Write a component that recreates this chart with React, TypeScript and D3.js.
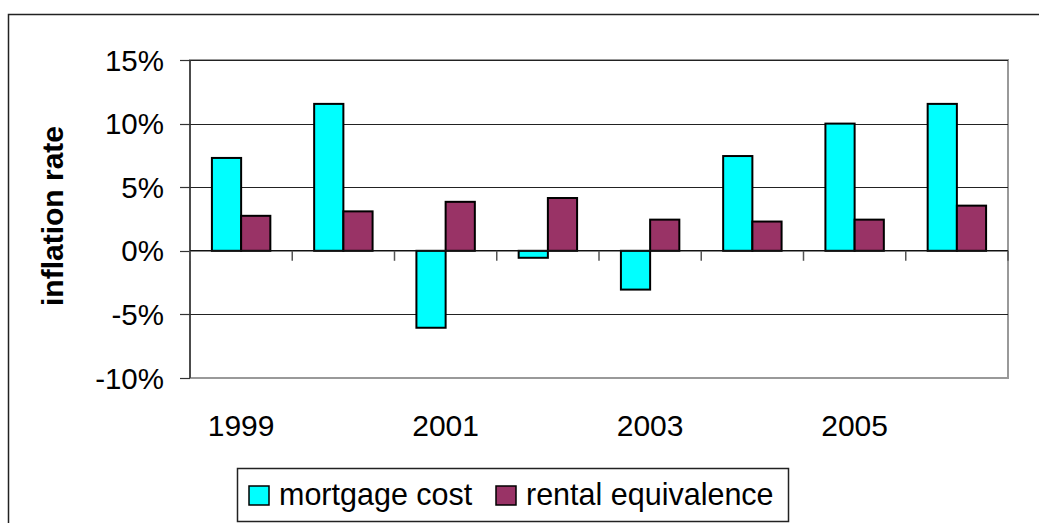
import React, { useEffect, useRef } from 'react';
import * as d3 from 'd3';

const years = ['1999', '2000', '2001', '2002', '2003', '2004', '2005', '2006'];
const mortgageCost = [7.3, 11.55, -6.05, -0.55, -3.05, 7.45, 10.0, 11.55];
const rentalEquivalence = [2.75, 3.1, 3.85, 4.15, 2.45, 2.3, 2.45, 3.55];
const yTicks = [-10, -5, 0, 5, 10, 15];
const seriesNames = ['mortgage cost', 'rental equivalence'];
const seriesColors = ['#00FFFF', '#993366'];

const App: React.FC = () => {
  const ref = useRef<SVGSVGElement | null>(null);

  useEffect(() => {
    if (!ref.current) return;
    const svg = d3.select(ref.current);
    svg.selectAll('*').remove();

    const width = 1039;
    const height = 523;
    const plot = { left: 190, top: 60, right: 1008, bottom: 378 };
    const font = 'Liberation Sans, Arial, sans-serif';

    // outer chart border
    svg.append('rect')
      .attr('x', 8.5).attr('y', 14.5)
      .attr('width', width + 10).attr('height', height)
      .attr('fill', 'white')
      .attr('stroke', '#222').attr('stroke-width', 1.5);

    const x = d3.scaleBand().domain(years).range([plot.left, plot.right]);
    const y = d3.scaleLinear().domain([-10, 15]).range([plot.bottom, plot.top]);
    const barW = x.bandwidth() / 3.5;
    const gap = (x.bandwidth() - 2 * barW) / 2;

    // plot area border (gray)
    svg.append('rect')
      .attr('x', plot.left).attr('y', plot.top)
      .attr('width', plot.right - plot.left).attr('height', plot.bottom - plot.top)
      .attr('fill', 'white')
      .attr('stroke', '#999').attr('stroke-width', 2);

    // gridlines
    svg.append('g').selectAll('line')
      .data(yTicks.filter(t => t !== 0 && t !== -10))
      .join('line')
      .attr('x1', plot.left).attr('x2', plot.right)
      .attr('y1', d => Math.round(y(d)) + 0.5).attr('y2', d => Math.round(y(d)) + 0.5)
      .attr('stroke', '#222').attr('stroke-width', 1);

    // y axis line and ticks
    svg.append('line')
      .attr('x1', plot.left).attr('x2', plot.left)
      .attr('y1', plot.top).attr('y2', plot.bottom)
      .attr('stroke', '#333').attr('stroke-width', 1.5);
    svg.append('g').selectAll('line')
      .data(yTicks)
      .join('line')
      .attr('x1', plot.left - 10).attr('x2', plot.left)
      .attr('y1', d => Math.round(y(d)) + 0.5).attr('y2', d => Math.round(y(d)) + 0.5)
      .attr('stroke', '#333').attr('stroke-width', 1.2);
    svg.append('g').selectAll('text')
      .data(yTicks)
      .join('text')
      .attr('x', 164).attr('y', d => y(d) + 10.5)
      .attr('text-anchor', 'end')
      .attr('font-family', font).attr('font-size', 29.5)
      .text(d => `${d}%`);

    // axis title
    svg.append('text')
      .attr('transform', `translate(63,${(plot.top + plot.bottom) / 2 - 3}) rotate(-90)`)
      .attr('text-anchor', 'middle')
      .attr('font-family', font).attr('font-size', 30).attr('font-weight', 'bold')
      .text('inflation rate');

    // bars
    const series = [mortgageCost, rentalEquivalence];
    series.forEach((vals, si) => {
      svg.append('g').selectAll('rect')
        .data(vals)
        .join('rect')
        .attr('x', (_, i) => x(years[i])! + gap + si * barW)
        .attr('y', d => y(Math.max(0, d)))
        .attr('width', barW)
        .attr('height', d => Math.abs(y(d) - y(0)))
        .attr('fill', seriesColors[si])
        .attr('stroke', '#000').attr('stroke-width', 2);
    });

    // zero line and category ticks
    svg.append('line')
      .attr('x1', plot.left).attr('x2', plot.right)
      .attr('y1', y(0)).attr('y2', y(0))
      .attr('stroke', '#111').attr('stroke-width', 1.5);
    svg.append('g').selectAll('line')
      .data(d3.range(years.length + 1))
      .join('line')
      .attr('x1', i => plot.left + i * x.step()).attr('x2', i => plot.left + i * x.step())
      .attr('y1', y(0)).attr('y2', y(0) + 10)
      .attr('stroke', '#555').attr('stroke-width', 1.5);

    // category labels (every other year)
    svg.append('g').selectAll('text')
      .data(years.filter((_, i) => i % 2 === 0))
      .join('text')
      .attr('x', d => x(d)! + x.bandwidth() / 2)
      .attr('y', 436)
      .attr('text-anchor', 'middle')
      .attr('font-family', font).attr('font-size', 30)
      .text(d => d);

    // legend
    const lg = svg.append('g');
    lg.append('rect')
      .attr('x', 237.5).attr('y', 468.5).attr('width', 551).attr('height', 53)
      .attr('fill', 'white').attr('stroke', '#222').attr('stroke-width', 1.5);
    const itemX = [249, 496];
    seriesNames.forEach((name, i) => {
      lg.append('rect')
        .attr('x', itemX[i]).attr('y', 486).attr('width', 20).attr('height', 19)
        .attr('fill', seriesColors[i]).attr('stroke', '#000').attr('stroke-width', 1.5);
      lg.append('text')
        .attr('x', itemX[i] + 30).attr('y', 505)
        .attr('font-family', font).attr('font-size', 30.5)
        .text(name);
    });
  }, []);

  return (
    <svg
      ref={ref}
      width={1039}
      height={523}
      style={{ position: 'absolute', left: 0, top: 0, background: 'white' }}
    />
  );
};

export default App;
